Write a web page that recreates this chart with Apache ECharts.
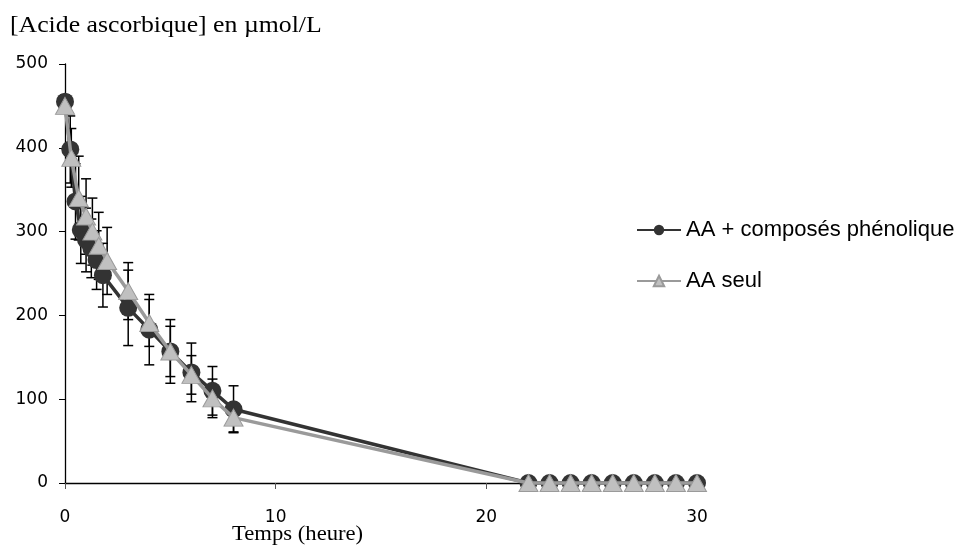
<!DOCTYPE html>
<html>
<head>
<meta charset="utf-8">
<script src="https://cdn.jsdelivr.net/npm/echarts@6/dist/echarts.min.js"></script>
<style>
html,body{margin:0;padding:0;background:#fff;}
#chart{width:954px;height:548px;}
</style>
</head>
<body>
<div id="chart"></div>
<script>
// Data (hours, µmol/L)
const seriesNames = ['AA + composés phénoliques', 'AA seul'];
const yAxisTitle = '[Acide ascorbique] en \u00b5mol/L';
const xAxisTitle = 'Temps (heure)';
const timesAP  = [0, 0.25, 0.5, 0.75, 1, 1.25, 1.5, 1.8, 3, 4, 5, 6, 7, 8, 22, 23, 24, 25, 26, 27, 28, 29, 30];
const valuesAP = [455, 398, 336, 302, 290, 280, 266, 248, 209, 183, 157, 132, 110, 88, 0, 0, 0, 0, 0, 0, 0, 0, 0];
const errAP    = [8, 40, 45, 40, 38, 35, 35, 38, 45, 42, 38, 35, 29, 28, 0, 0, 0, 0, 0, 0, 0, 0, 0];
const timesAA  = [0, 0.3, 0.65, 1, 1.3, 1.6, 2, 3, 4, 5, 6, 7, 8, 22, 23, 24, 25, 26, 27, 28, 29, 30];
const valuesAA = [450, 388, 340, 318, 300, 283, 265, 229, 191, 157, 129, 101, 78, 0, 0, 0, 0, 0, 0, 0, 0, 0];
const errAA    = [8, 35, 50, 45, 40, 40, 40, 34, 28, 30, 23, 23, 17, 0, 0, 0, 0, 0, 0, 0, 0, 0];
const xTicks = [0, 10, 20, 30];
const yTicks = [0, 100, 200, 300, 400, 500];

const pairs = (t, v) => t.map((x, i) => [x, v[i]]);
const triples = (t, v, e) => t.map((x, i) => [x, v[i], e[i]]);

function errRender(params, api) {
  const x = api.value(0), y = api.value(1), e = api.value(2);
  if (!e) return null;
  const top = api.coord([x, y + e]);
  const bot = api.coord([x, y - e]);
  const w = 5;
  const st = { stroke: '#000', lineWidth: 1.5 };
  return {
    type: 'group',
    children: [
      { type: 'line', shape: { x1: top[0], y1: top[1], x2: bot[0], y2: bot[1] }, style: st },
      { type: 'line', shape: { x1: top[0] - w, y1: top[1], x2: top[0] + w, y2: top[1] }, style: st },
      { type: 'line', shape: { x1: bot[0] - w, y1: bot[1], x2: bot[0] + w, y2: bot[1] }, style: st }
    ]
  };
}

const chart = echarts.init(document.getElementById('chart'), null, { renderer: 'canvas' });
chart.setOption({
  animation: false,
  backgroundColor: '#fff',
  graphic: [
    { type: 'text', x: 10, y: 14, scaleX: 1.12, scaleY: 1,
      style: { text: yAxisTitle, x: 0, y: 0, fontFamily: 'Liberation Serif', fontSize: 23, fill: '#000', verticalAlign: 'top' } },
    { type: 'text', x: 232, y: 523, scaleX: 1.03, scaleY: 1,
      style: { text: xAxisTitle, x: 0, y: 0, fontFamily: 'Liberation Serif', fontSize: 22, fill: '#000', verticalAlign: 'top' } }
  ],
  legend: {
    data: seriesNames,
    orient: 'vertical',
    left: 636,
    top: 219,
    padding: 0,
    itemGap: 29,
    itemWidth: 44,
    itemHeight: 13,
    textStyle: { fontFamily: 'Liberation Sans', fontSize: 22, color: '#000' }
  },
  grid: { left: 65, top: 64, width: 632, height: 419, containLabel: false },
  xAxis: {
    type: 'value', min: 0, max: 30, interval: 10,
    axisLine: { lineStyle: { color: '#000', width: 1.3 } },
    axisTick: { show: true, length: 6, lineStyle: { color: '#555' } },
    axisLabel: { fontFamily: 'DejaVu Sans', fontSize: 17, color: '#000', margin: 26,
      formatter: v => xTicks.includes(v) ? String(v) : '' },
    splitLine: { show: false }
  },
  yAxis: {
    type: 'value', min: 0, max: 500, interval: 100,
    axisLine: { show: true, lineStyle: { color: '#000', width: 1.3 } },
    axisTick: { show: true, length: 6, lineStyle: { color: '#000' } },
    axisLabel: { fontFamily: 'DejaVu Sans', fontSize: 17, color: '#000', margin: 17,
      formatter: v => yTicks.includes(v) ? String(v) : '' },
    splitLine: { show: false }
  },
  series: [
    {
      name: seriesNames[0] + ' err', type: 'custom', renderItem: errRender,
      data: triples(timesAP, valuesAP, errAP), z: 1, silent: true
    },
    {
      name: seriesNames[1] + ' err', type: 'custom', renderItem: errRender,
      data: triples(timesAA, valuesAA, errAA), z: 1, silent: true
    },
    {
      name: seriesNames[0], type: 'line', data: pairs(timesAP, valuesAP),
      symbol: 'circle', symbolSize: 18, showAllSymbol: true, clip: false,
      lineStyle: { color: '#333333', width: 3.5 },
      itemStyle: { color: '#333333', borderColor: '#333333', borderWidth: 0 },
      z: 2
    },
    {
      name: seriesNames[1], type: 'line', data: pairs(timesAA, valuesAA),
      symbol: 'triangle', symbolSize: [19, 17], showAllSymbol: true, clip: false,
      lineStyle: { color: '#9a9a9a', width: 3.5 },
      itemStyle: { color: '#c0c0c0', borderColor: '#9a9a9a', borderWidth: 1 },
      z: 3
    }
  ]
});
</script>
</body>
</html>
